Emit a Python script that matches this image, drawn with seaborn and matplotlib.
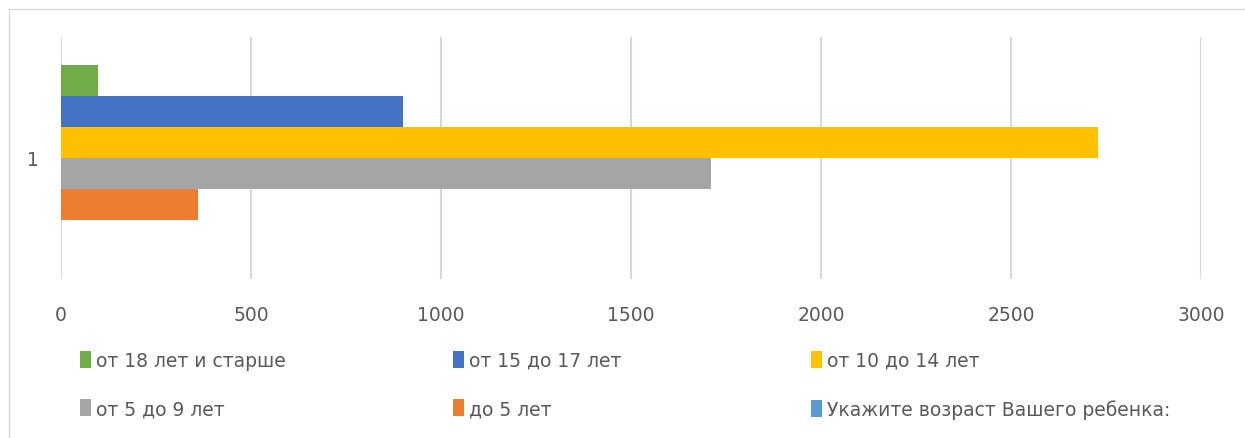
import pandas as pd
import matplotlib.pyplot as plt
import seaborn as sns
from matplotlib.patches import Rectangle, Patch

# series, top to bottom as drawn
groups = ["от 18 лет и старше", "от 15 до 17 лет", "от 10 до 14 лет",
          "от 5 до 9 лет", "до 5 лет", "Укажите возраст Вашего ребенка:"]
counts = [97, 901, 2728, 1710, 360, 0]
colors = ["#70AD47", "#4472C4", "#FFC000", "#A5A5A5", "#ED7D31", "#5B9BD5"]
category = "1"
xticks = [0, 500, 1000, 1500, 2000, 2500, 3000]

df = pd.DataFrame({"cat": [category] * len(groups), "group": groups, "value": counts})

sns.set_style("white")
plt.rcParams["font.family"] = ["DejaVu Sans"]
text_color = "#595959"

fig = plt.figure(figsize=(12.45, 4.39), dpi=100)
W, H = 1245, 439
ax = fig.add_axes([61 / W, 1 - 280 / H, (1201 - 61) / W, (280 - 38) / H])

sns.barplot(data=df, y="cat", x="value", hue="group", hue_order=groups,
            palette=colors, orient="h", width=0.77, saturation=1,
            linewidth=0, legend=False, ax=ax)

ax.set_xlim(0, 3000)
ax.set_ylim(0.5, -0.5)
ax.set_xticks(xticks)
ax.set_xticklabels([str(t) for t in xticks])
ax.set_xlabel("")
ax.set_ylabel("")
ax.grid(axis="x", color="#D9D9D9", linewidth=1.5)
ax.set_axisbelow(True)
for s in ax.spines.values():
    s.set_visible(False)
ax.tick_params(axis="both", length=0, labelsize=13.5, colors=text_color)
ax.tick_params(axis="x", pad=19)
ax.tick_params(axis="y", pad=16)

# legend: three columns, two rows, placed like the original
handles = [Patch(facecolor=c, edgecolor="none") for c in colors]
col_x = [80, 453, 811]
for i, x in enumerate(col_x):
    idx = [i, i + 3]
    leg = fig.legend([handles[j] for j in idx], [groups[j] for j in idx],
                     loc="upper left", bbox_to_anchor=(x / W, 1 - 352 / H),
                     frameon=False, fontsize=13.5, handlelength=0.6,
                     handleheight=1.0, handletextpad=0.25, labelspacing=1.55,
                     borderaxespad=0, borderpad=0)
    for t in leg.get_texts():
        t.set_color(text_color)

# outer chart frame
fig.patches.append(Rectangle((9 / W, -0.01), 1.2, 1 - 10 / H + 0.01,
                             transform=fig.transFigure, fill=False,
                             edgecolor="#D9D9D9", linewidth=1))

fig.savefig("out.png", dpi=100)
